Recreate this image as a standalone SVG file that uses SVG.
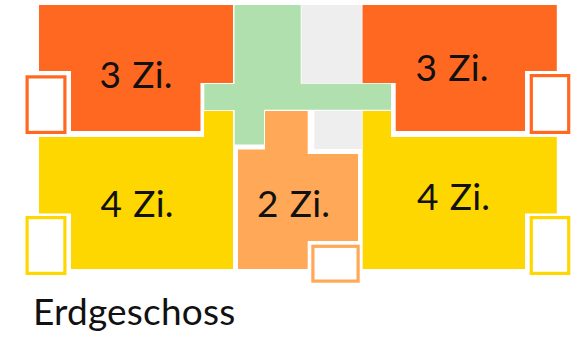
<svg xmlns="http://www.w3.org/2000/svg" width="585" height="337" viewBox="0 0 585 337">
<style>
text{font-family:"Lato","Noto Sans",sans-serif;font-size:37px;fill:#111}
.l{letter-spacing:.2px;word-spacing:1.5px}
.t{letter-spacing:.2px}
.o{fill:#FF6820}.y{fill:#FFD700}.p{fill:#FFA858}.g{fill:#B0E0AE}.e{fill:#EEEEEE}
.b{fill:#fff;stroke-width:3.2}
</style>
<rect width="585" height="337" fill="#fff"/>
<g id="corridor"><path class="g" d="M234.5 5H300.7V83.8H391V109.7H264V144.5H234.7V110H204.3V84H234.5Z"/></g>
<g id="stairs"><rect class="e" x="301.5" y="5" width="60.3" height="78"/><rect class="e" x="314.3" y="111" width="47.5" height="38"/></g>
<g id="apt-3-left"><path class="o" d="M39 5H233V83H200.5V131H71V71H39Z"/><rect class="b" stroke="#FF6820" x="27.1" y="76.9" width="37.8" height="55.5"/><text class="l" x="99.5" y="88">3 Zi.</text></g>
<g id="apt-3-right"><path class="o" d="M362.5 5H556.8V71H525V131H395.7V83H362.5Z"/><rect class="b" stroke="#FF6820" x="531.3" y="75.6" width="37.4" height="56.8"/><text class="l" x="415.5" y="81">3 Zi.</text></g>
<g id="apt-4-left"><path class="y" d="M39 137H204V111H233V269H71V213.5H39Z"/><rect class="b" stroke="#FFD700" x="27.1" y="217.6" width="37.8" height="55.8"/><text class="l" x="100.5" y="217">4 Zi.</text></g>
<g id="apt-4-right"><path class="y" d="M362.7 111H391V137H556.8V213.5H525V269H362.7Z"/><rect class="b" stroke="#FFD700" x="531.3" y="217.6" width="37.4" height="55.8"/><text class="l" x="417" y="210">4 Zi.</text></g>
<g id="apt-2"><path class="p" d="M265 111H307.7V154H358V241H307.7V269H238V149.5H265Z"/><rect class="b" stroke="#FFA858" x="312.9" y="246.3" width="45.2" height="34.8"/><text class="l" x="257" y="217">2 Zi.</text></g>
<text class="t" x="33" y="325">Erdgeschoss</text>
</svg>
